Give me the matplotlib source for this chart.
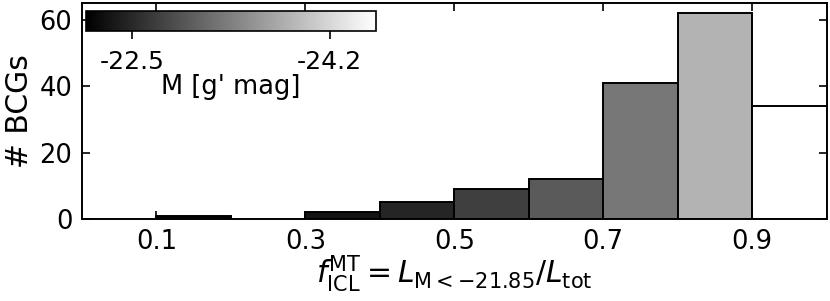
import numpy as np
import matplotlib.pyplot as plt
from matplotlib import cm, colors

# histogram of f_ICL, bins of width 0.1
bin_edges = np.round(np.arange(0.0, 1.01, 0.1), 2)
counts = [0, 1, 0, 2, 5, 9, 12, 41, 62, 34]
# mean BCG magnitude in each bin (sets the bar grey level)
bin_mag = [-22.2, -22.15, -22.2, -22.30, -22.47, -22.72, -22.98, -23.27, -23.85, -24.6]

mag_min, mag_max = -24.6, -22.1
cbar_ticks = [-22.5, -24.2]
x_ticks = [0.1, 0.3, 0.5, 0.7, 0.9]
y_ticks = [0, 20, 40, 60]

fig = plt.figure(figsize=(8.3, 3.01), dpi=100)
ax = fig.add_axes([0.0988, 0.2724, 0.8970, 0.7176])

norm = colors.Normalize(vmin=mag_min, vmax=mag_max)
cmap = plt.get_cmap('gray_r')

for i in range(len(counts)):
    if counts[i] == 0:
        continue
    ax.bar(bin_edges[i], counts[i], width=0.1, align='edge',
           color=cmap(norm(bin_mag[i])), edgecolor='black', linewidth=1.4)

ax.set_xlim(0, 1)
ax.set_ylim(0, 65)
ax.set_xticks(x_ticks)
ax.set_yticks(y_ticks)
ax.tick_params(direction='in', top=True, right=True, length=6, width=1.2,
               labelsize=18.5, pad=7)
for s in ax.spines.values():
    s.set_linewidth(1.4)
ax.set_xlabel(r'$f_{\rm ICL}^{\rm MT} = L_{\rm M<-21.85}/L_{\rm tot}$', fontsize=21.5, labelpad=-1)
ax.set_ylabel('# BCGs', fontsize=21.5, labelpad=4)

# inset colorbar
cax = fig.add_axes([86 / 830, 1 - 31 / 301, 290 / 830, 20 / 301])
sm = cm.ScalarMappable(norm=norm, cmap=cmap)
cb = fig.colorbar(sm, cax=cax, orientation='horizontal')
cax.invert_xaxis()
cb.set_ticks(cbar_ticks)
cb.set_ticklabels([str(t) for t in cbar_ticks])
cb.outline.set_linewidth(1.2)
cax.tick_params(labelsize=18, length=6, width=1.2, pad=8)
cb.set_label("M [g' mag]", fontsize=18.5, labelpad=0)

fig.savefig('out.png', dpi=100)
